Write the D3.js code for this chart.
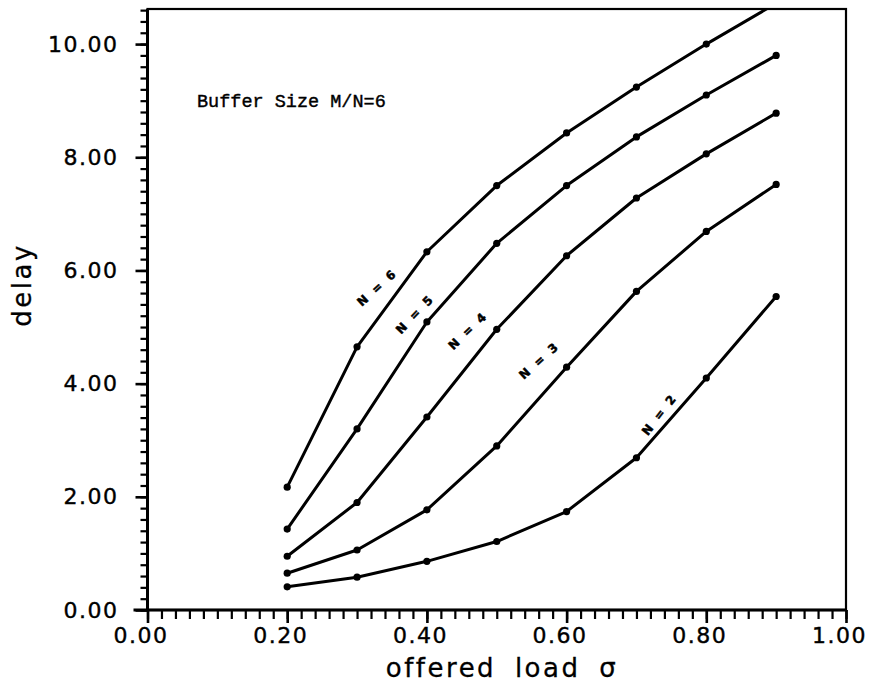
<!DOCTYPE html>
<html>
<head>
<meta charset="utf-8">
<script src="https://cdn.jsdelivr.net/npm/d3@7"></script>
<style>
  html, body { margin: 0; padding: 0; background: #fff; }
  svg { display: block; }
</style>
</head>
<body>
<svg id="chart" width="871" height="684"></svg>
<script>
// ---- data ----
const loads = [0.2, 0.3, 0.4, 0.5, 0.6, 0.7, 0.8, 0.9];
const delayN2 = [0.41, 0.58, 0.86, 1.21, 1.74, 2.69, 4.10, 5.54];
const delayN3 = [0.65, 1.06, 1.77, 2.90, 4.29, 5.63, 6.69, 7.52];
const delayN4 = [0.95, 1.90, 3.41, 4.96, 6.26, 7.28, 8.06, 8.78];
const delayN5 = [1.43, 3.20, 5.09, 6.48, 7.50, 8.36, 9.10, 9.80];
const delayN6 = [2.17, 4.65, 6.33, 7.50, 8.43, 9.24, 10.00, 10.72];
const seriesNames = ["N = 2", "N = 3", "N = 4", "N = 5", "N = 6"];
// label anchors in data units (load, delay) and text angle
const labelLoad = [0.733, 0.561, 0.459, 0.383, 0.329];
const labelDelay = [3.46, 4.41, 4.94, 5.23, 5.70];
const labelAngle = [-52, -42, -44, -46, -42];
const xTickValues = [0, 0.2, 0.4, 0.6, 0.8, 1.0];
const yTickValues = [0, 2, 4, 6, 8, 10];
const xTitle = "offered load σ";
const yTitle = "delay";
const noteText = "Buffer Size M/N=6";

const series = [delayN2, delayN3, delayN4, delayN5, delayN6].map((vals, i) => ({
  name: seriesNames[i],
  pts: loads.map((x, j) => ({ x, y: vals[j] }))
}));

// ---- layout ----
const svg = d3.select("#chart");
const mLeft = 147.5, mRight = 846, mTop = 9, mBottom = 610;
const yMax = 10.62;
const x = d3.scaleLinear().domain([0, 1]).range([mLeft, mRight]);
const y = d3.scaleLinear().domain([0, yMax]).range([mBottom, mTop]);

svg.append("defs").append("clipPath").attr("id", "plotClip")
  .append("rect").attr("x", mLeft).attr("y", mTop)
  .attr("width", mRight - mLeft).attr("height", mBottom - mTop);

const tickFont = "'DejaVu Sans', sans-serif";

// minor ticks
const xMinor = d3.range(0, 1.0001, 0.02);
const yMinor = d3.range(0, yMax, 0.2);

const gx = svg.append("g").attr("transform", `translate(0,${mBottom})`);
gx.call(d3.axisBottom(x).tickValues(xMinor).tickSize(9).tickFormat(""));
gx.select(".domain").remove();
gx.selectAll("line").attr("stroke", "#000").attr("stroke-width", 2.2);
const gxMaj = svg.append("g").attr("transform", `translate(0,${mBottom})`);
gxMaj.call(d3.axisBottom(x).tickValues(xTickValues).tickSize(13)
  .tickFormat(d3.format(".2f")).tickPadding(4));
gxMaj.select(".domain").remove();
gxMaj.selectAll("line").attr("stroke", "#000").attr("stroke-width", 2.6);
gxMaj.selectAll("text").attr("font-family", tickFont).attr("font-size", 22)
  .attr("letter-spacing", 1.5).attr("fill", "#000").attr("dx", -7)
  .attr("stroke", "#000").attr("stroke-width", 0.4);

const gy = svg.append("g").attr("transform", `translate(${mLeft},0)`);
gy.call(d3.axisLeft(y).tickValues(yMinor).tickSize(7).tickFormat(""));
gy.select(".domain").remove();
gy.selectAll("line").attr("stroke", "#000").attr("stroke-width", 2.2);
const gyMaj = svg.append("g").attr("transform", `translate(${mLeft},0)`);
gyMaj.call(d3.axisLeft(y).tickValues(yTickValues).tickSize(12)
  .tickFormat(d3.format(".2f")).tickPadding(17));
gyMaj.select(".domain").remove();
gyMaj.selectAll("line").attr("stroke", "#000").attr("stroke-width", 2.6);
gyMaj.selectAll("text").attr("font-family", tickFont).attr("font-size", 22)
  .attr("letter-spacing", 1.5).attr("fill", "#000")
  .attr("stroke", "#000").attr("stroke-width", 0.4);

// frame
svg.append("rect").attr("x", mLeft).attr("y", mTop)
  .attr("width", mRight - mLeft).attr("height", mBottom - mTop)
  .attr("fill", "none").attr("stroke", "#000").attr("stroke-width", 2.2);
svg.append("line").attr("x1", mLeft).attr("x2", mLeft).attr("y1", mTop).attr("y2", mBottom)
  .attr("stroke", "#000").attr("stroke-width", 3);
svg.append("line").attr("x1", mLeft - 14).attr("x2", mRight).attr("y1", mBottom).attr("y2", mBottom)
  .attr("stroke", "#000").attr("stroke-width", 3);

// curves
const line = d3.line().x(d => x(d.x)).y(d => y(d.y));
const plot = svg.append("g").attr("clip-path", "url(#plotClip)");
series.forEach(s => {
  plot.append("path").datum(s.pts).attr("d", line)
    .attr("fill", "none").attr("stroke", "#000").attr("stroke-width", 3)
    .attr("stroke-linejoin", "round");
  plot.selectAll(null).data(s.pts.filter(p => p.y <= yMax)).enter().append("circle")
    .attr("cx", d => x(d.x)).attr("cy", d => y(d.y)).attr("r", 3.6).attr("fill", "#000");
});

// curve labels
series.forEach((s, i) => {
  svg.append("text")
    .attr("transform", `translate(${x(labelLoad[i])},${y(labelDelay[i])}) rotate(${labelAngle[i]})`)
    .attr("text-anchor", "middle").attr("dy", "0.35em")
    .attr("font-family", tickFont).attr("font-weight", "bold")
    .attr("font-size", 12).attr("letter-spacing", 2.5).attr("fill", "#000")
    .attr("stroke", "#000").attr("stroke-width", 0.5)
    .text(s.name);
});

// note
svg.append("text").attr("x", 197).attr("y", 107)
  .attr("font-family", "'Liberation Mono', 'DejaVu Sans Mono', monospace")
  .attr("font-size", 18.5).attr("fill", "#000")
  .attr("stroke", "#000").attr("stroke-width", 0.4).text(noteText);

// axis titles
svg.append("text").attr("x", 502).attr("y", 677).attr("text-anchor", "middle")
  .attr("font-family", tickFont).attr("font-size", 26).attr("letter-spacing", 2.5)
  .attr("word-spacing", 8).attr("fill", "#000")
  .attr("stroke", "#000").attr("stroke-width", 0.3).text(xTitle);
svg.append("text").attr("transform", "translate(31,285) rotate(-90)")
  .attr("text-anchor", "middle")
  .attr("font-family", tickFont).attr("font-size", 26).attr("letter-spacing", 2.5)
  .attr("fill", "#000").attr("stroke", "#000").attr("stroke-width", 0.3).text(yTitle);
</script>
</body>
</html>
